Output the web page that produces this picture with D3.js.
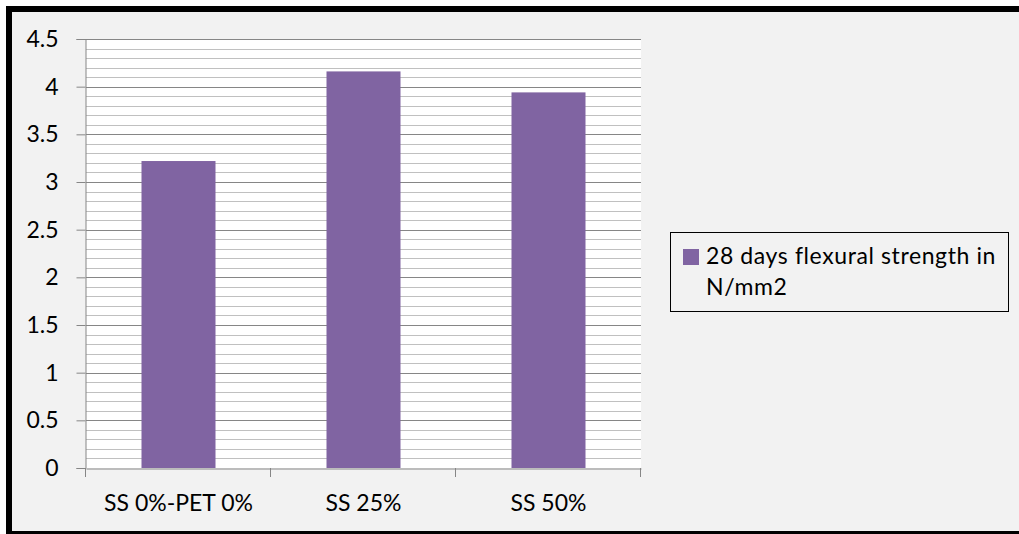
<!DOCTYPE html>
<html>
<head>
<meta charset="utf-8">
<script src="https://cdn.jsdelivr.net/npm/d3@7"></script>
<style>
  html, body { margin: 0; padding: 0; background: #ffffff; }
  svg { display: block; }
  text { font-family: Lato, "Liberation Sans", sans-serif; fill: #000; }
</style>
</head>
<body>
<svg id="chart" width="1019" height="534"></svg>
<script>
// Chart data
const categories = ["SS 0%-PET 0%", "SS 25%", "SS 50%"];
const flexuralStrength = [3.22, 4.16, 3.94];
const seriesName = ["28 days flexural strength in", "N/mm2"];
const yMajorTicks = [0, 0.5, 1, 1.5, 2, 2.5, 3, 3.5, 4, 4.5];
const yMinorStep = 0.1;
const yMax = 4.5;

const svg = d3.select("#chart");
const W = 1019, H = 534;

// Chart frame: grey fill with a heavy black border
svg.append("rect").attr("x", 6).attr("y", 6).attr("width", W).attr("height", 528).attr("fill", "#000");
svg.append("rect").attr("x", 12).attr("y", 12).attr("width", W - 12).attr("height", 519).attr("fill", "#f2f2f2");

const plot = { left: 86, right: 641, top: 39, bottom: 468 };

const x = d3.scaleBand()
  .domain(categories)
  .range([plot.left, plot.right])
  .paddingInner(0.6)
  .paddingOuter(0.3);

const xCat = d3.scaleBand().domain(categories).range([plot.left, plot.right]);

const y = d3.scaleLinear().domain([0, yMax]).range([plot.bottom, plot.top]);

// Plot area background
svg.append("rect")
  .attr("x", plot.left).attr("y", plot.top)
  .attr("width", plot.right - plot.left).attr("height", plot.bottom - plot.top)
  .attr("fill", "#ffffff");

// Minor gridlines
const minorTicks = d3.range(0, Math.round(yMax / yMinorStep) + 1)
  .map(i => +(i * yMinorStep).toFixed(2))
  .filter(v => !yMajorTicks.some(m => Math.abs(m - v) < 1e-9));

svg.append("g").selectAll("line").data(minorTicks).join("line")
  .attr("x1", plot.left).attr("x2", plot.right)
  .attr("y1", d => Math.round(y(d)) + 0.5).attr("y2", d => Math.round(y(d)) + 0.5)
  .attr("stroke", "#c0c0c0").attr("stroke-width", 1);

// Major gridlines
svg.append("g").selectAll("line").data(yMajorTicks.filter(v => v > 0)).join("line")
  .attr("x1", plot.left).attr("x2", plot.right)
  .attr("y1", d => Math.round(y(d)) + 0.5).attr("y2", d => Math.round(y(d)) + 0.5)
  .attr("stroke", "#868686").attr("stroke-width", 1);

// Bars
svg.append("g").selectAll("rect").data(categories).join("rect")
  .attr("x", d => x(d))
  .attr("y", (d, i) => y(flexuralStrength[i]))
  .attr("width", x.bandwidth())
  .attr("height", (d, i) => y(0) - y(flexuralStrength[i]))
  .attr("fill", "#8064a2");

// Y axis
const yAxis = d3.axisLeft(y).tickValues(yMajorTicks).tickSize(9).tickPadding(18)
  .tickFormat(d3.format("~g"));
const gy = svg.append("g").attr("transform", `translate(${plot.left - 0.5},0)`).call(yAxis);
gy.select(".domain").attr("stroke", "#868686");
gy.selectAll(".tick line").attr("stroke", "#868686");
gy.selectAll(".tick text").attr("font-size", 23).attr("font-family", "Lato, sans-serif").attr("fill", "#000");

// X axis
const xAxis = d3.axisBottom(xCat).tickSize(0).tickPadding(26);
const gx = svg.append("g").attr("transform", `translate(0,${plot.bottom + 0.5})`).call(xAxis);
gx.select(".domain").attr("stroke", "#868686");
gx.selectAll(".tick text").attr("font-size", 23).attr("font-family", "Lato, sans-serif").attr("fill", "#000");

// Category boundary tick marks
const boundaries = categories.map(c => xCat(c)).concat([plot.right]);
svg.append("g").selectAll("line").data(boundaries).join("line")
  .attr("x1", d => Math.round(d) - 0.5).attr("x2", d => Math.round(d) - 0.5)
  .attr("y1", plot.bottom).attr("y2", plot.bottom + 9)
  .attr("stroke", "#868686");

// Legend
const legend = svg.append("g");
legend.append("rect")
  .attr("x", 670.5).attr("y", 232.5).attr("width", 338).attr("height", 79)
  .attr("fill", "#f2f2f2").attr("stroke", "#000").attr("stroke-width", 1);
legend.append("rect")
  .attr("x", 683).attr("y", 249).attr("width", 16).attr("height", 16)
  .attr("fill", "#8064a2");
legend.selectAll("text").data(seriesName).join("text")
  .attr("x", 706)
  .attr("y", (d, i) => 264 + i * 31)
  .attr("font-size", 23)
  .attr("letter-spacing", 0.6)
  .text(d => d);
</script>
</body>
</html>
